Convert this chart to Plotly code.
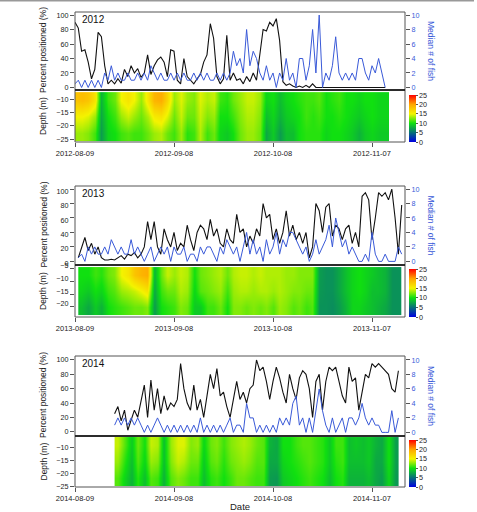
import plotly.graph_objects as go
import pandas as pd

W, H = 477, 512
years = [2012, 2013, 2014]

# ---------------- data ----------------
# daily "percent positioned" (%) and "median # of fish"
line_start = {2012: "2012-08-09", 2013: "2013-08-10", 2014: "2014-08-21"}

pct_2012 = [90, 82, 50, 52, 35, 12, 25, 76, 70, 30,
            5, 10, 5, 12, 6, 25, 15, 30, 20, 26,
            14, 20, 45, 18, 30, 38, 42, 35, 15, 52,
            50, 10, 5, 40, 15, 10, 5, 12, 18, 35,
            45, 88, 68, 15, 5, 12, 72, 10, 20, 10,
            12, 5, 15, 8, 20, 10, 45, 80, 78, 90,
            85, 95, 65, 8, 3, 5, 2, 0, 2, 0,
            3, 0, 5, 0, 0, 0, 0, 0, 0, 0,
            0, 0, 0, 0, 0, 0, 0, 0, 0, 0,
            0, 0, 0, 0, 0]
fish_2012 = [0.5, 1, 0, 1, 0, 1, 0, 1, 0, 2,
             1, 3, 1, 2, 1, 1, 2, 1, 1, 2,
             1, 2, 1, 3, 2, 1, 2, 1, 1, 2,
             1, 2, 1, 2, 1, 1, 2, 1, 2, 1,
             2, 1, 1, 2, 1, 2, 1, 2, 5, 3,
             4, 2, 8, 3, 5, 4, 2, 1, 3, 1,
             2, 0, 2, 1, 4, 1, 2, 0, 4, 4,
             1, 3, 8, 2, 10, 0, 2, 1, 3, 7,
             2, 1, 2, 1, 2, 1, 4, 4, 2, 1,
             3, 2, 4, 2, 0]

pct_2013 = [5, 20, 33, 15, 25, 10, 20, 5, 2, 2,
            3, 2, 5, 8, 3, 10, 8, 12, 5, 10,
            20, 55, 30, 55, 20, 10, 45, 30, 20, 40,
            15, 25, 20, 50, 30, 15, 40, 50, 45, 30,
            58, 35, 45, 25, 20, 45, 30, 25, 65, 40,
            45, 20, 35, 25, 45, 35, 80, 60, 65, 30,
            45, 25, 40, 70, 35, 50, 30, 40, 25, 40,
            5, 20, 80, 70, 40, 75, 80, 35, 50, 45,
            30, 45, 50, 25, 40, 20, 90, 95, 85, 30,
            60, 95, 90, 95, 85, 100, 60, 10, 78]
fish_2013 = [0.5, 1, 0, 2, 1, 2, 1, 1, 2, 1,
             3, 2, 1, 2, 1, 1, 3, 1, 2, 1,
             0, 1, 2, 0, 1, 2, 1, 2, 0, 2,
             1, 1, 2, 0, 1, 1, 0, 2, 1, 2,
             2, 1, 0, 2, 1, 3, 2, 1, 2, 0,
             2, 4, 1, 3, 1, 2, 0, 3, 1, 2,
             4, 1, 3, 2, 4, 4, 3, 2, 1, 2,
             0, 1, 3, 1, 2, 3, 5, 2, 6, 4,
             2, 3, 1, 2, 1, 0, 0, 1, 0, 4,
             1, 0, 0, 1, 0, 0, 0, 2, 1]

pct_2014 = [25, 35, 15, 30, 2, 15, 30, 20, 45, 65,
            20, 72, 30, 60, 25, 50, 30, 40, 35, 45,
            95, 60, 40, 30, 65, 30, 45, 20, 50, 80,
            60, 88, 50, 55, 35, 20, 45, 70, 45, 55,
            40, 60, 65, 100, 85, 90, 70, 45, 70, 90,
            75, 55, 40, 80, 60, 45, 75, 85, 80, 60,
            20, 70, 80, 30, 70, 90, 85, 90, 70, 50,
            40, 90, 70, 75, 30, 55, 80, 75, 95, 90,
            95, 90, 85, 80, 60, 55, 85]
fish_2014 = [1, 2, 1, 2, 1, 2, 1, 2, 1, 0,
             1, 0, 1, 2, 1, 0, 1, 0, 1, 0,
             1, 0, 1, 0, 1, 0, 2, 0, 1, 0,
             1, 0, 1, 0, 1, 2, 0, 1, 1, 0,
             4, 2, 2, 0, 1, 0, 1, 0, 1, 0,
             2, 1, 2, 1, 4, 5, 1, 2, 0, 2,
             0, 3, 6, 3, 1, 0, 2, 0, 1, 2,
             0, 2, 2, 1, 2, 4, 2, 1, 2, 1,
             1, 0, 0, 0, 3, 0, 2]

# water temperature (deg C) every 2 days at three depth layers (top / mid / bottom)
heat_start = {2012: "2012-08-09", 2013: "2013-08-11", 2014: "2014-08-22"}
depth_edges = {2012: [-25.7, -19.6, -13.5, -7.4],
               2013: [-23.1, -16.9, -10.7, -4.5],
               2014: [-24.7, -18.4, -12.2, -5.9]}

temp_top_2012 = [18, 18.5, 18, 16, 8, 11, 12, 15, 16, 15, 13, 16, 19, 19.5, 17, 13, 14.5, 13, 12.5, 14.5,
                 13.5, 14, 11, 10.5, 12, 13, 14, 14, 13, 9.5, 10, 8.5, 9.5, 10, 10.5, 11, 11, 11.5, 10, 10.5,
                 11, 10, 10, 9.5, 10, 10, 9.5, 9.5]
temp_mid_2012 = [15, 15, 14.5, 13, 7.5, 10, 11, 13, 14, 13, 12, 13.5, 15.5, 16, 14.5, 12, 14, 12, 12, 14,
                 12.5, 13, 10, 10, 11, 12.5, 13.5, 13.5, 12.5, 8.5, 9.5, 8, 9, 9.5, 10, 11, 10.5, 11, 10, 10,
                 10.5, 10, 9.5, 9, 9.5, 10, 9.5, 9.5]
temp_bot_2012 = [13, 13, 12.5, 11, 7, 9.5, 10, 11, 11.5, 11, 11, 12, 13, 13.5, 12, 11, 13, 10.5, 11, 13.5,
                 11, 12, 9.5, 9, 10, 12, 13, 13, 12, 7.5, 9, 7, 8.5, 8.5, 10, 10.5, 10.5, 10.5, 9.5, 10,
                 10, 9.5, 9, 8, 9, 9.5, 9, 9]

temp_top_2013 = [10, 10, 11, 10.5, 12, 12.5, 15, 16, 18, 19, 19.5, 8, 12, 14, 13, 14, 13.5, 10, 12, 12.5,
                 13, 13.5, 12, 13.5, 14, 14, 13.5, 14, 13.5, 13.5, 13.5, 13, 13, 12.5, 12.5, 12.5, 7, 6.5, 6.5, 7.5,
                 8.5, 9.5, 10, 9.5, 9, 8.5, 8, 6.5, 6.5]
temp_mid_2013 = [9.5, 9, 10, 9.5, 11, 11.5, 13, 13.5, 14, 15, 16, 7.5, 11, 12, 12, 13.5, 13, 9.5, 11.5, 12,
                 12.5, 13, 11, 13, 13.5, 13.5, 13, 13.5, 13.5, 13, 13.5, 13, 12.5, 12.5, 12, 12, 6.8, 6.5, 6.5, 7.5,
                 8.5, 9.5, 10, 9.5, 8.5, 8.5, 8, 6.5, 6.5]
temp_bot_2013 = [8.5, 7.5, 9, 8, 10, 10.5, 11, 11.5, 12, 12, 12.5, 7, 10, 10.5, 11, 12.5, 12, 9, 9, 11,
                 11, 12, 10, 12.5, 12.5, 12, 12.5, 12, 12.5, 11.5, 13, 12.5, 11.5, 12, 11, 11.5, 6.5, 6.5, 6.3, 7,
                 8, 9.5, 9.5, 9, 8.5, 8, 7.5, 6.5, 6.5]

temp_top_2014 = [14, 11.5, 9, 12, 10, 14, 13.5, 8.5, 13, 14.5, 14.5, 12.5, 13, 9.5, 12, 12.5, 11, 12.5, 13, 13.5,
                 13, 12, 11.5, 8, 7.5, 10, 10, 11, 11.5, 11.5, 11, 10.5, 9, 11, 11, 8.5, 9, 8.5, 9, 8,
                 7.5, 10, 7]
temp_mid_2014 = [13, 10.5, 8.5, 11.5, 9.5, 13, 12.5, 8.5, 12.5, 14, 13.5, 12, 12, 9, 11.5, 12, 10.5, 12, 12.5, 13,
                 12.5, 11.5, 11.5, 7.5, 7.5, 9.5, 10, 10.5, 11, 11.5, 11, 10.5, 9, 10.5, 11, 8.5, 8.5, 8.5, 9, 7.5,
                 7.5, 10, 7]
temp_bot_2014 = [11.5, 9.5, 8, 10.5, 8.5, 11.5, 11, 8, 11.5, 12.5, 12, 11, 11, 8.5, 10.5, 11, 10, 11, 12, 12,
                 11.5, 11, 11, 7, 6.8, 9, 9.5, 10, 10.5, 11, 10.5, 10, 8.5, 10, 10.5, 8, 8, 8, 8.5, 7.5,
                 7, 9.5, 6.8]

pct = {2012: pct_2012, 2013: pct_2013, 2014: pct_2014}
fish = {2012: fish_2012, 2013: fish_2013, 2014: fish_2014}
temps = {2012: (temp_bot_2012, temp_mid_2012, temp_top_2012),
         2013: (temp_bot_2013, temp_mid_2013, temp_top_2013),
         2014: (temp_bot_2014, temp_mid_2014, temp_top_2014)}

date_ticks = ["08-09", "09-08", "10-08", "11-07"]
pct_ticks = [0, 20, 40, 60, 80, 100]
fish_ticks = [0, 2, 4, 6, 8, 10]
depth_ticks = {2012: [-10, -15, -20, -25], 2013: [-5, -10, -15, -20], 2014: [-10, -15, -20, -25]}
temp_ticks = [0, 5, 10, 15, 20, 25]

# ---------------- layout geometry (pixels) ----------------
def X(px):
    return px / W


def Y(py):
    return 1 - py / H


XL, XR = 75, 405
panels = {  # line top, divider, heat bottom
    2012: (12, 90, 142),
    2013: (186, 265, 317),
    2014: (356, 436, 487),
}
pct_range = {2012: [-3.5, 104.2], 2013: [-5, 104.2], 2014: [-6, 105.5]}
fish_range = {2012: [-0.35, 10.42], 2013: [-0.5, 10.42], 2014: [-0.5, 10.55]}
depth_range = {2012: [-26.1, -6.6], 2013: [-23.9, -3.7], 2014: [-25.1, -5.5]}
cbar_y = {2012: (95, 142), 2013: (269, 317), 2014: (440, 487)}
# small label nudges where the 0 and the top depth label sit close together
pct_shift = {2012: 0, 2013: 2, 2014: 0}
depth_shift = {2012: 0, 2013: -3, 2014: 0}

FONT = "Liberation Sans, Arial, sans-serif"
BLUE = "#3a5ad8"
TICKC = "#555"
TXT = "#222"
TICKSIZE = 7.2

colorscale = [[0, "#0000e0"], [0.4, "#10e010"], [0.6, "#f4f400"], [0.8, "#ffa500"], [1, "#ff0000"]]

fig = go.Figure()
layout = dict(width=W, height=H, margin=dict(l=0, r=0, t=0, b=0, autoexpand=False), autosize=False,
              paper_bgcolor="white", plot_bgcolor="white", showlegend=False,
              font=dict(family=FONT, size=8, color=TXT))
shapes = []
annotations = []

for k, yr in enumerate(years):
    xname = "x" if k == 0 else f"x{k + 1}"
    xkey = "xaxis" if k == 0 else f"xaxis{k + 1}"
    il, ir, ih = 3 * k + 1, 3 * k + 2, 3 * k + 3
    yl = "y" if il == 1 else f"y{il}"
    yr_ = f"y{ir}"
    yh = f"y{ih}"
    top, mid, bot = panels[yr]

    line_dates = pd.date_range(line_start[yr], periods=len(pct[yr]), freq="D").strftime("%Y-%m-%d").tolist()
    tb, tm, tt = temps[yr]
    heat_dates = pd.date_range(heat_start[yr], periods=len(tt), freq="2D").strftime("%Y-%m-%d").tolist()

    cax = "coloraxis" if k == 0 else f"coloraxis{k + 1}"
    fig.add_trace(go.Heatmap(x=heat_dates, y=depth_edges[yr], z=[tb, tm, tt], zsmooth="best",
                             coloraxis=cax, xaxis=xname, yaxis=yh, hoverinfo="skip"))
    fig.add_trace(go.Scatter(x=line_dates, y=pct[yr], mode="lines", line=dict(color="#111", width=1.1),
                             xaxis=xname, yaxis=yl))
    fig.add_trace(go.Scatter(x=line_dates, y=fish[yr], mode="lines", line=dict(color=BLUE, width=1),
                             xaxis=xname, yaxis=yr_))

    tick_dates = [f"{yr}-{d}" for d in date_ticks]
    layout[xkey] = dict(domain=[X(XL), X(XR)], anchor=yh, type="date", automargin=False,
                        range=[f"{yr}-08-09", f"{yr}-11-17"], tickvals=tick_dates, ticktext=tick_dates,
                        ticks="outside", ticklen=4, tickcolor=TICKC, showgrid=False, zeroline=False,
                        showline=False, tickfont=dict(size=7.5, color=TXT))
    layout["yaxis" if il == 1 else f"yaxis{il}"] = dict(
        domain=[Y(mid), Y(top)], anchor=xname, range=pct_range[yr], tickvals=pct_ticks, automargin=False,
        ticks="outside", ticklen=4, tickcolor=TICKC, showgrid=False, zeroline=False, showline=False,
        ticklabelshift=pct_shift[yr], tickfont=dict(size=TICKSIZE, color=TXT))
    layout[f"yaxis{ir}"] = dict(
        overlaying=yl, side="right", anchor=xname, range=fish_range[yr], tickvals=fish_ticks,
        automargin=False,
        ticks="outside", ticklen=4, tickcolor=TICKC, showgrid=False, zeroline=False, showline=False,
        tickfont=dict(size=TICKSIZE, color=BLUE))
    layout[f"yaxis{ih}"] = dict(
        domain=[Y(bot), Y(mid)], anchor=xname, range=depth_range[yr], tickvals=depth_ticks[yr],
        automargin=False,
        ticks="outside", ticklen=4, tickcolor=TICKC, showgrid=False, zeroline=False, showline=False,
        ticklabelshift=depth_shift[yr], tickfont=dict(size=TICKSIZE, color=TXT))

    c0, c1 = cbar_y[yr]
    layout[cax] = dict(colorscale=colorscale, cmin=0, cmax=25,
                       colorbar=dict(x=X(409), xanchor="left", y=Y((c0 + c1) / 2), yanchor="middle",
                                     len=c1 - c0, lenmode="pixels", thickness=7, thicknessmode="pixels",
                                     tickvals=temp_ticks, ticks="outside", ticklen=2, tickcolor=TICKC,
                                     tickfont=dict(size=TICKSIZE, color=TXT), outlinewidth=0,
                                     xpad=0, ypad=0))

    shapes.append(dict(type="rect", xref="paper", yref="paper", x0=X(XL), x1=X(XR), y0=Y(mid), y1=Y(top),
                       line=dict(color="#555", width=1)))
    shapes.append(dict(type="rect", xref="paper", yref="paper", x0=X(XL), x1=X(XR), y0=Y(bot), y1=Y(mid),
                       line=dict(color="#555", width=1)))
    shapes.append(dict(type="line", xref="paper", yref="paper", x0=X(XL), x1=X(XR), y0=Y(mid), y1=Y(mid),
                       line=dict(color="#111", width=1.5)))

    annotations.append(dict(text=str(yr), x=X(80), y=Y(top + 7), xref="paper", yref="paper",
                            xanchor="left", yanchor="middle", showarrow=False,
                            font=dict(size=10, color="#111")))
    annotations.append(dict(text="Percent positioned (%)", x=X(43), y=Y((top + mid) / 2 - 1),
                            xref="paper", yref="paper", textangle=-90, showarrow=False,
                            xanchor="center", yanchor="middle", font=dict(size=8.5, color=TXT)))
    annotations.append(dict(text="Depth (m)", x=X(43), y=Y((mid + bot) / 2), xref="paper", yref="paper",
                            textangle=-90, showarrow=False, xanchor="center", yanchor="middle",
                            font=dict(size=8.5, color=TXT)))
    annotations.append(dict(text="Median # of fish", x=X(431), y=Y((top + mid) / 2), xref="paper",
                            yref="paper", textangle=90, showarrow=False, xanchor="center",
                            yanchor="middle", font=dict(size=8.5, color=BLUE)))

annotations.append(dict(text="Date", x=X(240), y=Y(506), xref="paper", yref="paper", showarrow=False,
                        xanchor="center", yanchor="middle", font=dict(size=9.5, color=TXT)))
shapes.append(dict(type="line", xref="paper", yref="paper", x0=0, x1=X(474), y0=Y(0.8), y1=Y(0.8),
                   line=dict(color="#999", width=1.5)))

layout["shapes"] = shapes
layout["annotations"] = annotations
fig.update_layout(**layout)
fig.write_html("out.html")
